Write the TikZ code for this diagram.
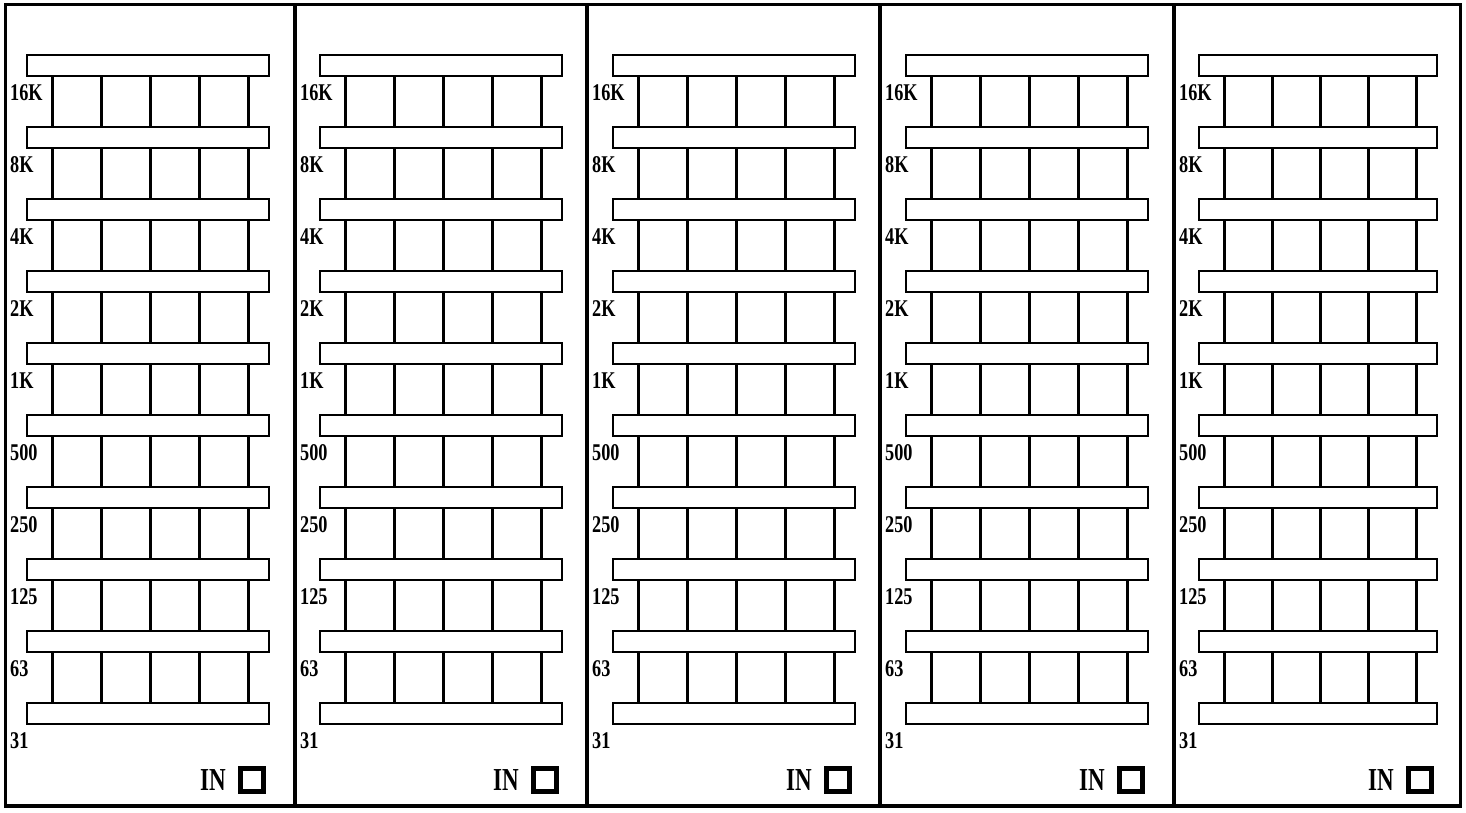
\documentclass[tikz,border=0pt]{standalone}
\usepackage{fontspec}
\setmainfont{Liberation Serif}
\begin{document}
\begin{tikzpicture}[x=1pt,y=-1pt,line join=miter,
  barbox/.style={draw,line width=2.5pt,fill=white},
  vline/.style={line width=3pt},
  lab/.style={inner sep=0pt,anchor=west,font=\fontsize{24}{24}\selectfont\bfseries},
  intext/.style={inner sep=0pt,anchor=east,font=\fontsize{32}{32}\selectfont\bfseries},
  insq/.style={draw,line width=5.5pt,minimum size=23pt,inner sep=0pt},
  frame/.style={line width=3pt},
  sep/.style={line width=4.5pt}]
\useasboundingbox (0,0) rectangle (1466,812);
\fill[white] (0,0) rectangle (1466,812);
\foreach \i/\pl/\bl/\bw/\vs in {0/5/27/242/49, 1/295/320/242/49, 2/587/613/242/49, 3/880/906/242/49, 4/1174/1199/238/48} {
  % verticals
  \foreach \j in {0,...,8} {
    \foreach \k in {0,...,4} {
      \draw[vline] ({\bl+25+\vs*\k},{76+72*\j}) -- ++(0,51);
    }
  }
  % bars and labels
  \foreach \lab [count=\jj from 0] in {16K,8K,4K,2K,1K,500,250,125,63,31} {
    \draw[barbox] (\bl,{55+72*\jj}) rectangle ++(\bw,21);
    \node[lab] (l\i-\jj) at ({\pl+5},{93+72*\jj}) {\scalebox{0.76}[1]{\lab}};
  }
  \node[insq] (sq\i) at ({\bl+\bw-17},780) {};
  \node[intext] (in\i) at ({\bl+\bw-43},780) {\scalebox{0.72}[1]{IN}};
}
\draw[frame] (5,4) rectangle (1460,806);
\draw[sep] (5,806) -- (1460,806);
\foreach \x in {295,587,880,1174} {
  \draw[sep] (\x,4) -- (\x,806);
}
\end{tikzpicture}
\end{document}
